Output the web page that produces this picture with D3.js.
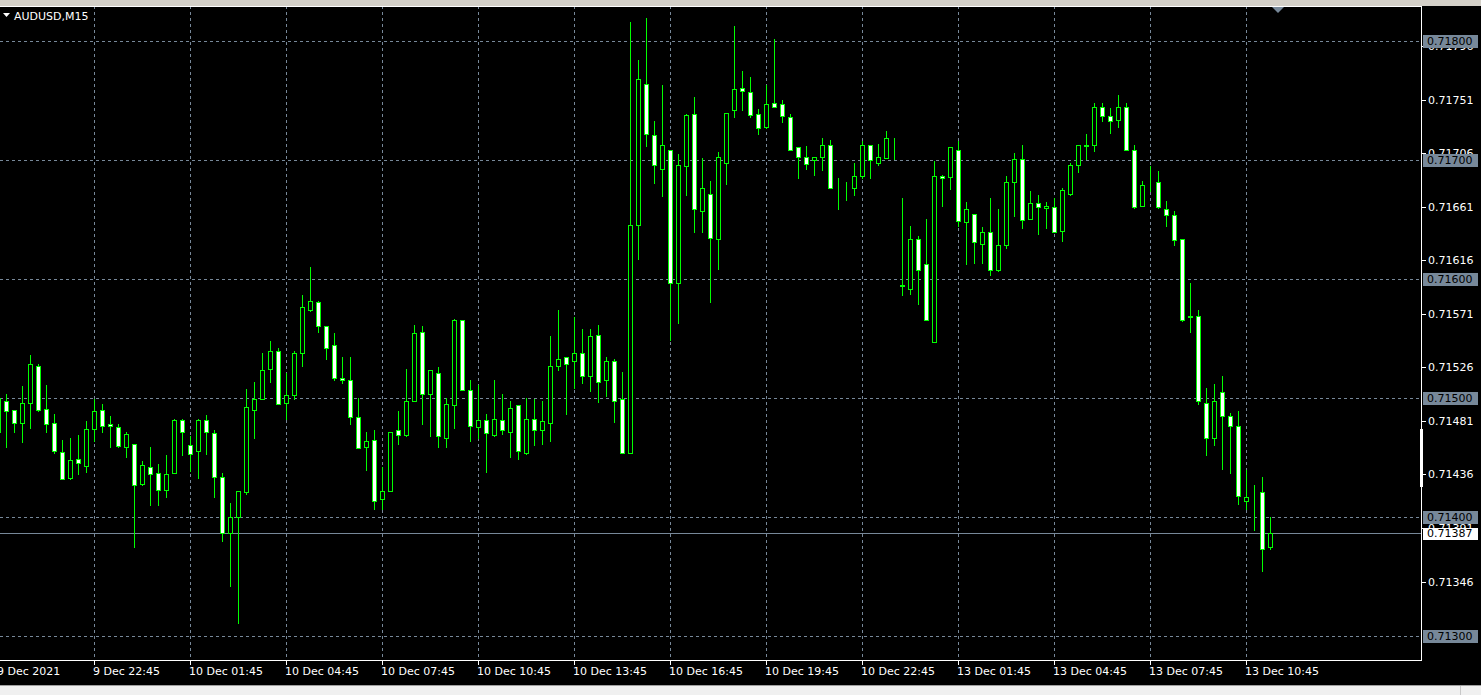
<!DOCTYPE html>
<html><head><meta charset="utf-8">
<script src="https://cdn.jsdelivr.net/npm/d3@7"></script>
<style>html,body{margin:0;padding:0;background:#000;overflow:hidden}</style>
</head><body><svg id="c" width="1481" height="695"></svg>
<script>
const symbol = "AUDUSD,M15";
const open = [
0.71472,0.71498,0.71490,0.71479,0.71496,0.71527,0.71491,0.71479,0.71455,0.71433,
0.71449,0.71443,0.71474,0.71490,0.71478,0.71476,0.71459,0.71462,0.71428,0.71442,
0.71437,0.71423,0.71437,0.71482,0.71461,0.71456,0.71482,0.71471,0.71434,0.71387,
0.71400,0.71421,0.71490,0.71499,0.71525,0.71540,0.71496,0.71503,0.71538,0.71574,
0.71581,0.71561,0.71545,0.71517,0.71515,0.71484,0.71459,0.71465,0.71415,0.71422,
0.71473,0.71469,0.71498,0.71556,0.71504,0.71521,0.71467,0.71494,0.71566,0.71507,
0.71476,0.71482,0.71469,0.71482,0.71472,0.71494,0.71454,0.71483,0.71473,0.71479,
0.71527,0.71535,0.71531,0.71538,0.71519,0.71553,0.71515,0.71531,0.71499,0.71454,
0.71646,0.71764,0.71721,0.71693,0.71709,0.71597,0.71695,0.71739,0.71657,0.71672,
0.71634,0.71698,0.71742,0.71761,0.71757,0.71739,0.71728,0.71748,0.71747,0.71736,
0.71711,0.71703,0.71700,0.71703,0.71713,0.71677,0.71677,0.71677,0.71687,0.71713,
0.71698,0.71702,0.71719,0.71595,0.71592,0.71634,0.71613,0.71547,0.71687,0.71686,
0.71709,0.71648,0.71655,0.71630,0.71640,0.71608,0.71629,0.71682,0.71701,0.71651,
0.71664,0.71660,0.71661,0.71641,0.71672,0.71696,0.71713,0.71713,0.71745,0.71737,
0.71734,0.71745,0.71709,0.71662,0.71680,0.71682,0.71659,0.71654,0.71634,0.71569,
0.71569,0.71496,0.71467,0.71505,0.71485,0.71477,0.71414,0.71417,0.71421,0.71375];
const high = [
0.71503,0.71504,0.71490,0.71510,0.71536,0.71529,0.71511,0.71487,0.71465,0.71467,
0.71469,0.71481,0.71499,0.71495,0.71485,0.71478,0.71472,0.71462,0.71447,0.71459,
0.71445,0.71452,0.71483,0.71483,0.71468,0.71483,0.71486,0.71473,0.71437,0.71412,
0.71422,0.71508,0.71514,0.71538,0.71548,0.71542,0.71521,0.71540,0.71587,0.71610,
0.71582,0.71561,0.71555,0.71535,0.71535,0.71500,0.71472,0.71473,0.71442,0.71472,
0.71489,0.71525,0.71562,0.71561,0.71524,0.71526,0.71500,0.71567,0.71566,0.71515,
0.71511,0.71487,0.71515,0.71504,0.71498,0.71494,0.71500,0.71499,0.71498,0.71552,
0.71574,0.71535,0.71568,0.71558,0.71558,0.71562,0.71535,0.71533,0.71522,0.71816,
0.71784,0.71820,0.71733,0.71763,0.71709,0.71705,0.71739,0.71753,0.71702,0.71683,
0.71707,0.71740,0.71813,0.71775,0.71770,0.71743,0.71763,0.71802,0.71751,0.71739,
0.71711,0.71712,0.71703,0.71719,0.71717,0.71685,0.71682,0.71698,0.71716,0.71713,
0.71714,0.71725,0.71719,0.71668,0.71645,0.71636,0.71651,0.71699,0.71688,0.71711,
0.71716,0.71665,0.71655,0.71644,0.71668,0.71659,0.71687,0.71706,0.71713,0.71674,
0.71671,0.71665,0.71668,0.71677,0.71698,0.71713,0.71722,0.71748,0.71748,0.71744,
0.71755,0.71748,0.71713,0.71683,0.71695,0.71691,0.71666,0.71657,0.71634,0.71597,
0.71574,0.71509,0.71512,0.71519,0.71488,0.71489,0.71440,0.71427,0.71434,0.71400];
const low = [
0.71468,0.71459,0.71472,0.71463,0.71475,0.71489,0.71472,0.71454,0.71432,0.71432,
0.71436,0.71438,0.71464,0.71472,0.71459,0.71459,0.71451,0.71375,0.71427,0.71410,
0.71410,0.71417,0.71437,0.71452,0.71439,0.71433,0.71453,0.71417,0.71380,0.71342,
0.71311,0.71420,0.71467,0.71499,0.71514,0.71495,0.71483,0.71499,0.71527,0.71573,
0.71556,0.71533,0.71515,0.71513,0.71478,0.71458,0.71440,0.71407,0.71407,0.71422,
0.71462,0.71468,0.71498,0.71478,0.71468,0.71459,0.71459,0.71475,0.71507,0.71464,
0.71467,0.71438,0.71468,0.71470,0.71451,0.71449,0.71453,0.71461,0.71462,0.71464,
0.71524,0.71487,0.71509,0.71513,0.71506,0.71497,0.71502,0.71480,0.71454,0.71454,
0.71617,0.71712,0.71681,0.71670,0.71549,0.71563,0.71671,0.71640,0.71640,0.71581,
0.71609,0.71680,0.71736,0.71742,0.71736,0.71722,0.71727,0.71745,0.71732,0.71709,
0.71685,0.71693,0.71688,0.71692,0.71677,0.71659,0.71667,0.71671,0.71685,0.71685,
0.71696,0.71702,0.71701,0.71587,0.71588,0.71579,0.71566,0.71547,0.71662,0.71676,
0.71645,0.71613,0.71614,0.71614,0.71604,0.71607,0.71626,0.71653,0.71643,0.71651,
0.71638,0.71643,0.71640,0.71632,0.71671,0.71690,0.71701,0.71708,0.71733,0.71723,
0.71728,0.71709,0.71660,0.71662,0.71674,0.71660,0.71645,0.71629,0.71565,0.71556,
0.71495,0.71452,0.71461,0.71441,0.71437,0.71411,0.71407,0.71389,0.71355,0.71373];
const close = [
0.71500,0.71489,0.71479,0.71496,0.71529,0.71490,0.71478,0.71456,0.71432,0.71448,
0.71446,0.71474,0.71489,0.71477,0.71477,0.71460,0.71470,0.71427,0.71444,0.71436,
0.71423,0.71436,0.71482,0.71472,0.71453,0.71482,0.71472,0.71434,0.71387,0.71400,
0.71422,0.71493,0.71499,0.71524,0.71540,0.71495,0.71503,0.71538,0.71577,0.71582,
0.71561,0.71542,0.71517,0.71515,0.71484,0.71458,0.71464,0.71414,0.71422,0.71472,
0.71469,0.71498,0.71555,0.71504,0.71524,0.71468,0.71495,0.71566,0.71507,0.71477,
0.71482,0.71471,0.71483,0.71473,0.71492,0.71456,0.71483,0.71473,0.71481,0.71527,
0.71533,0.71529,0.71538,0.71519,0.71552,0.71514,0.71531,0.71498,0.71454,0.71646,
0.71768,0.71722,0.71696,0.71713,0.71597,0.71696,0.71738,0.71659,0.71677,0.71635,
0.71703,0.71740,0.71760,0.71758,0.71738,0.71727,0.71747,0.71745,0.71737,0.71709,
0.71703,0.71697,0.71703,0.71713,0.71677,0.71677,0.71677,0.71687,0.71713,0.71700,
0.71703,0.71719,0.71719,0.71594,0.71634,0.71608,0.71566,0.71687,0.71685,0.71711,
0.71649,0.71659,0.71631,0.71640,0.71608,0.71629,0.71682,0.71701,0.71650,0.71664,
0.71661,0.71662,0.71640,0.71675,0.71696,0.71713,0.71712,0.71745,0.71737,0.71733,
0.71745,0.71709,0.71661,0.71679,0.71680,0.71661,0.71654,0.71633,0.71566,0.71568,
0.71498,0.71467,0.71498,0.71485,0.71477,0.71418,0.71417,0.71417,0.71373,0.71387];
const priceTicks = [0.71346,0.71391,0.71436,0.71481,0.71526,0.71571,0.71616,0.71661,0.71706,0.71751,0.71796];
const gridLevels = [0.71300,0.71400,0.71500,0.71600,0.71700,0.71800];
const timeLabels = ["9 Dec 2021","9 Dec 22:45","10 Dec 01:45","10 Dec 04:45","10 Dec 07:45","10 Dec 10:45","10 Dec 13:45","10 Dec 16:45","10 Dec 19:45","10 Dec 22:45","13 Dec 01:45","13 Dec 04:45","13 Dec 07:45","13 Dec 10:45"];
const barsPerLabel = 12;
const currentPrice = 0.71387;

const W = 1481, H = 695;
const P = {left: 0, right: 1421, top: 6, bottom: 660};
const GRID = "#778899", GREEN = "#00ff00";
const FONT = "DejaVu Sans, Verdana, sans-serif";

// 15-minute bar times, skipping the weekend
const times = [];
{
  let t = new Date(2021, 11, 9, 19, 45);
  while (times.length < open.length) {
    const d = t.getDay();
    if (d !== 0 && d !== 6) times.push(new Date(t));
    t = new Date(t.getTime() + 15 * 60000);
  }
}
const key = d3.timeFormat("%Y-%m-%d %H:%M");
const bars = times.map((t, i) => ({t: key(t), o: open[i], h: high[i], l: low[i], c: close[i]}));

const x = d3.scalePoint().domain(bars.map(b => b.t)).range([-1.5, -1.5 + 8 * (bars.length - 1)]);
const y = d3.scaleLinear().domain([0.713, 0.718]).range([636.3, 41.3]);

const svg = d3.select("#c");
svg.append("rect").attr("width", W).attr("height", H).attr("fill", "#000");

svg.append("defs").append("clipPath").attr("id", "pc")
  .append("rect").attr("x", P.left).attr("y", P.top).attr("width", P.right - P.left).attr("height", P.bottom - P.top);

const g = svg.append("g").attr("clip-path", "url(#pc)");

// grid
g.selectAll(".hg").data(gridLevels).join("line")
  .attr("x1", P.left).attr("x2", P.right)
  .attr("y1", d => Math.round(y(d)) + 0.5).attr("y2", d => Math.round(y(d)) + 0.5)
  .attr("stroke", GRID).attr("stroke-dasharray", "3,3");
const tickBars = timeLabels.map((lab, j) => bars[j * barsPerLabel].t);
g.selectAll(".vg").data(tickBars.slice(1)).join("line")
  .attr("x1", d => Math.floor(x(d)) + 0.5).attr("x2", d => Math.floor(x(d)) + 0.5)
  .attr("y1", P.top).attr("y2", P.bottom)
  .attr("stroke", GRID).attr("stroke-dasharray", "3,3");

// current price line
g.append("line").attr("x1", P.left).attr("x2", P.right)
  .attr("y1", Math.round(y(currentPrice)) + 0.5).attr("y2", Math.round(y(currentPrice)) + 0.5)
  .attr("stroke", GRID);

// candles
const cg = g.append("g").attr("shape-rendering", "crispEdges");
const cx = d => Math.floor(x(d.t));
cg.selectAll(".wick").data(bars).join("rect")
  .attr("x", d => cx(d)).attr("width", 1)
  .attr("y", d => Math.round(y(d.h)))
  .attr("height", d => Math.round(y(d.l)) - Math.round(y(d.h)) + 1)
  .attr("fill", GREEN);
cg.selectAll(".body").data(bars).join("rect")
  .attr("x", d => cx(d) - 1.5).attr("width", 4)
  .attr("y", d => Math.round(y(Math.max(d.o, d.c))) + 0.5)
  .attr("height", d => Math.round(y(Math.min(d.o, d.c))) - Math.round(y(Math.max(d.o, d.c))))
  .attr("fill", d => d.c > d.o ? "#000" : "#fff")
  .attr("stroke", GREEN).attr("stroke-width", 1);

// frame
svg.append("rect").attr("x", 0).attr("y", 0).attr("width", W).attr("height", P.top).attr("fill", "#d4d0c8");
const fr = svg.append("g").attr("shape-rendering", "crispEdges");
fr.append("line").attr("x1", 0).attr("x2", P.right + 1).attr("y1", P.top + 0.5).attr("y2", P.top + 0.5).attr("stroke", "#fff");
fr.append("line").attr("x1", P.right + 0.5).attr("x2", P.right + 0.5).attr("y1", P.top).attr("y2", P.bottom + 1).attr("stroke", "#fff");
fr.append("line").attr("x1", 0).attr("x2", P.right + 1).attr("y1", P.bottom + 0.5).attr("y2", P.bottom + 0.5).attr("stroke", "#fff");

// shift marker
svg.append("path").attr("d", "M1272,7 L1284,7 L1278,13 Z").attr("fill", GRID);

// scroll marker on price axis
fr.append("rect").attr("x", 1420).attr("y", 429).attr("width", 3).attr("height", 58).attr("fill", "#fff");

// price axis ticks & labels
fr.selectAll(".pt").data(priceTicks).join("line")
  .attr("x1", P.right + 1).attr("x2", P.right + 5)
  .attr("y1", d => Math.round(y(d)) + 0.5).attr("y2", d => Math.round(y(d)) + 0.5)
  .attr("stroke", "#fff");
svg.selectAll(".pl").data(priceTicks).join("text")
  .attr("x", 1428).attr("y", d => y(d)).attr("dy", "0.36em")
  .attr("fill", "#fff").attr("font-family", FONT).attr("font-size", 11)
  .text(d => d.toFixed(5));

// grid level boxes
const gb = svg.selectAll(".gb").data(gridLevels).join("g");
gb.append("rect").attr("x", 1423).attr("width", 55).attr("height", 13)
  .attr("y", d => Math.round(y(d)) - 6).attr("fill", GRID);
gb.append("text").attr("x", 1427).attr("y", d => y(d)).attr("dy", "0.36em")
  .attr("fill", "#000").attr("font-family", FONT).attr("font-size", 11)
  .text(d => d.toFixed(5));

// current price box
svg.append("rect").attr("x", 1423).attr("width", 55).attr("height", 12)
  .attr("y", Math.round(y(currentPrice)) - 5).attr("fill", "#fff");
svg.append("text").attr("x", 1427).attr("y", y(currentPrice)).attr("dy", "0.4em")
  .attr("fill", "#000").attr("font-family", FONT).attr("font-size", 11)
  .text(currentPrice.toFixed(5));

// time axis
fr.selectAll(".tt").data(tickBars).join("line")
  .attr("x1", d => Math.floor(x(d)) + 0.5).attr("x2", d => Math.floor(x(d)) + 0.5)
  .attr("y1", P.bottom).attr("y2", P.bottom + 5).attr("stroke", "#fff");
svg.selectAll(".tl").data(timeLabels).join("text")
  .attr("x", (d, j) => Math.floor(x(tickBars[j])) - 1)
  .attr("y", 675)
  .attr("fill", "#fff").attr("font-family", FONT).attr("font-size", 11)
  .text(d => d);

// bottom window band
svg.append("rect").attr("x", 0).attr("y", 685).attr("width", W).attr("height", 10).attr("fill", "#f0f0f0");
svg.append("line").attr("x1", 0).attr("x2", W).attr("y1", 685.5).attr("y2", 685.5).attr("stroke", "#a0a0a0");
svg.append("line").attr("x1", 1460.5).attr("x2", 1460.5).attr("y1", 686).attr("y2", H).attr("stroke", "#c8c8c8");

// title
svg.append("path").attr("d", "M3,13 L10,13 L6.5,17 Z").attr("fill", "#fff");
svg.append("text").attr("x", 14).attr("y", 20).attr("fill", "#fff")
  .attr("font-family", FONT).attr("font-size", 11).text(symbol);
</script>
</body></html>
